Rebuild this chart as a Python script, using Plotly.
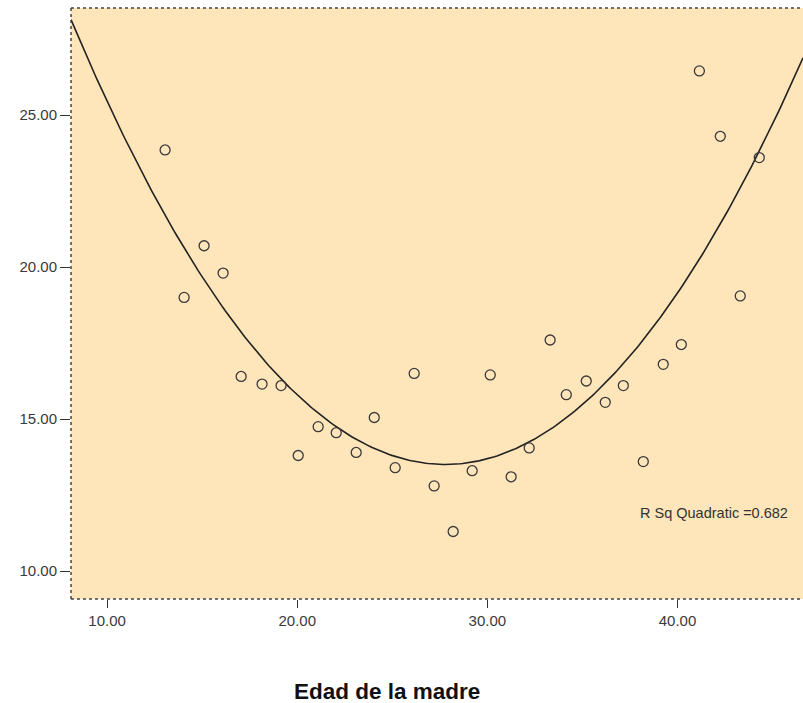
import numpy as np
import plotly.graph_objects as go

edad = [13.05, 14.05, 15.1, 16.1, 17.05, 18.15, 19.15, 20.05, 21.1, 22.05, 23.1, 24.05,
        25.15, 26.15, 27.2, 28.2, 29.2, 30.15, 31.25, 32.2, 33.3, 34.15, 35.2, 36.2,
        37.15, 38.2, 39.25, 40.2, 41.15, 42.25, 43.3, 44.3]
valor = [23.85, 19.0, 20.7, 19.8, 16.4, 16.15, 16.1, 13.8, 14.75, 14.55, 13.9, 15.05,
         13.4, 16.5, 12.8, 11.3, 13.3, 16.45, 13.1, 14.05, 17.6, 15.8, 16.25, 15.55,
         16.1, 13.6, 16.8, 17.45, 26.45, 24.3, 19.05, 23.6]
x_ticks = [10, 20, 30, 40]
x_tick_labels = ["10.00", "20.00", "30.00", "40.00"]
y_ticks = [10, 15, 20, 25]
y_tick_labels = ["10.00", "15.00", "20.00", "25.00"]
r2_label = "R Sq Quadratic =0.682"
x_title = "Edad de la madre"

x_range = [8.1, 46.6]
y_range = [9.08, 28.52]

coef = np.polyfit(edad, valor, 2)
xc = np.linspace(x_range[0], x_range[1], 300)
yc = np.polyval(coef, xc)

fig = go.Figure()
fig.add_trace(go.Scatter(x=xc, y=yc, mode="lines",
                         line=dict(color="#222222", width=1.6), hoverinfo="skip"))
fig.add_trace(go.Scatter(x=edad, y=valor, mode="markers",
                         marker=dict(symbol="circle-open", size=10,
                                     color="#3a3a3a", line=dict(width=1.3))))

fig.update_layout(
    width=803, height=703,
    margin=dict(l=71, r=0, t=8, b=104),
    paper_bgcolor="white",
    plot_bgcolor="#FEE6BA",
    showlegend=False,
    font=dict(family="Liberation Sans, Arial, sans-serif", size=15, color="#3a3a3a"),
    xaxis=dict(range=x_range, tickvals=x_ticks, ticktext=x_tick_labels,
               ticks="outside", ticklen=8, tickcolor="#333333", showgrid=False,
               zeroline=False, showline=False, fixedrange=True,
               tickfont=dict(size=15)),
    yaxis=dict(range=y_range, tickvals=y_ticks, ticktext=y_tick_labels,
               ticks="outside", ticklen=10, tickcolor="#333333", showgrid=False,
               zeroline=False, showline=False, fixedrange=True,
               tickfont=dict(size=15)),
    annotations=[
        dict(x=0.982, y=0.145, xref="paper", yref="paper", text=r2_label,
             showarrow=False, xanchor="right", yanchor="middle",
             font=dict(size=14.5, color="#333333")),
        dict(x=0.432, y=-0.157, xref="paper", yref="paper", text="<b>" + x_title + "</b>",
             showarrow=False, xanchor="center", yanchor="middle",
             font=dict(size=22.5, color="#111111")),
    ],
    shapes=[
        dict(type="line", xref="paper", yref="paper", x0=0, x1=1, y0=1, y1=1,
             line=dict(color="#444444", width=1.5, dash="dot")),
        dict(type="line", xref="paper", yref="paper", x0=0, x1=0, y0=0, y1=1,
             line=dict(color="#444444", width=1.5, dash="dot")),
        dict(type="line", xref="paper", yref="paper", x0=0, x1=1, y0=0, y1=0,
             line=dict(color="#444444", width=1.5, dash="dot")),
    ],
)

fig.write_html("out.html")
